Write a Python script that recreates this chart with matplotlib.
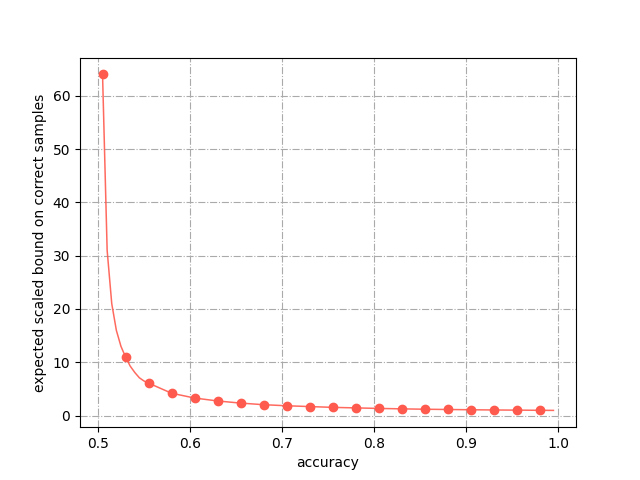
import matplotlib
matplotlib.use('Agg')
import matplotlib.pyplot as plt

# marker points (every 0.025)
marker_acc = [0.505, 0.53, 0.555, 0.58, 0.605, 0.63, 0.655, 0.68, 0.705, 0.73,
              0.755, 0.78, 0.805, 0.83, 0.855, 0.88, 0.905, 0.93, 0.955, 0.98]
marker_bound = [64.0, 11.0, 6.1, 4.2, 3.3, 2.75, 2.35, 2.05, 1.85, 1.7,
                1.55, 1.45, 1.35, 1.27, 1.2, 1.15, 1.1, 1.06, 1.03, 1.0]

# line points (denser near the start)
line_acc = [0.505, 0.51, 0.515, 0.52, 0.525, 0.53, 0.535, 0.54, 0.545, 0.55,
            0.555, 0.58, 0.605, 0.63, 0.655, 0.68, 0.705, 0.73, 0.755, 0.78,
            0.805, 0.83, 0.855, 0.88, 0.905, 0.93, 0.955, 0.98, 0.995]
line_bound = [64.0, 31.0, 21.0, 16.0, 13.0, 11.0, 9.3, 8.1, 7.1, 6.5,
              6.1, 4.2, 3.3, 2.75, 2.35, 2.05, 1.85, 1.7, 1.55, 1.45,
              1.35, 1.27, 1.2, 1.15, 1.1, 1.06, 1.03, 1.0, 0.98]

fig, ax = plt.subplots(figsize=(6.4, 4.8), dpi=100)
ax.plot(line_acc, line_bound, color='#ff5a4e', lw=1.1, alpha=0.9)
ax.plot(marker_acc, marker_bound, 'o', color='#ff5a4e', markersize=6)
ax.grid(True, linestyle='-.', color='#aaaaaa')
ax.set_xlabel('accuracy')
ax.set_ylabel('expected scaled bound on correct samples')
ax.set_xticks([0.5, 0.6, 0.7, 0.8, 0.9, 1.0])
ax.set_yticks([0, 10, 20, 30, 40, 50, 60])
plt.savefig('out.png')
plt.close()
